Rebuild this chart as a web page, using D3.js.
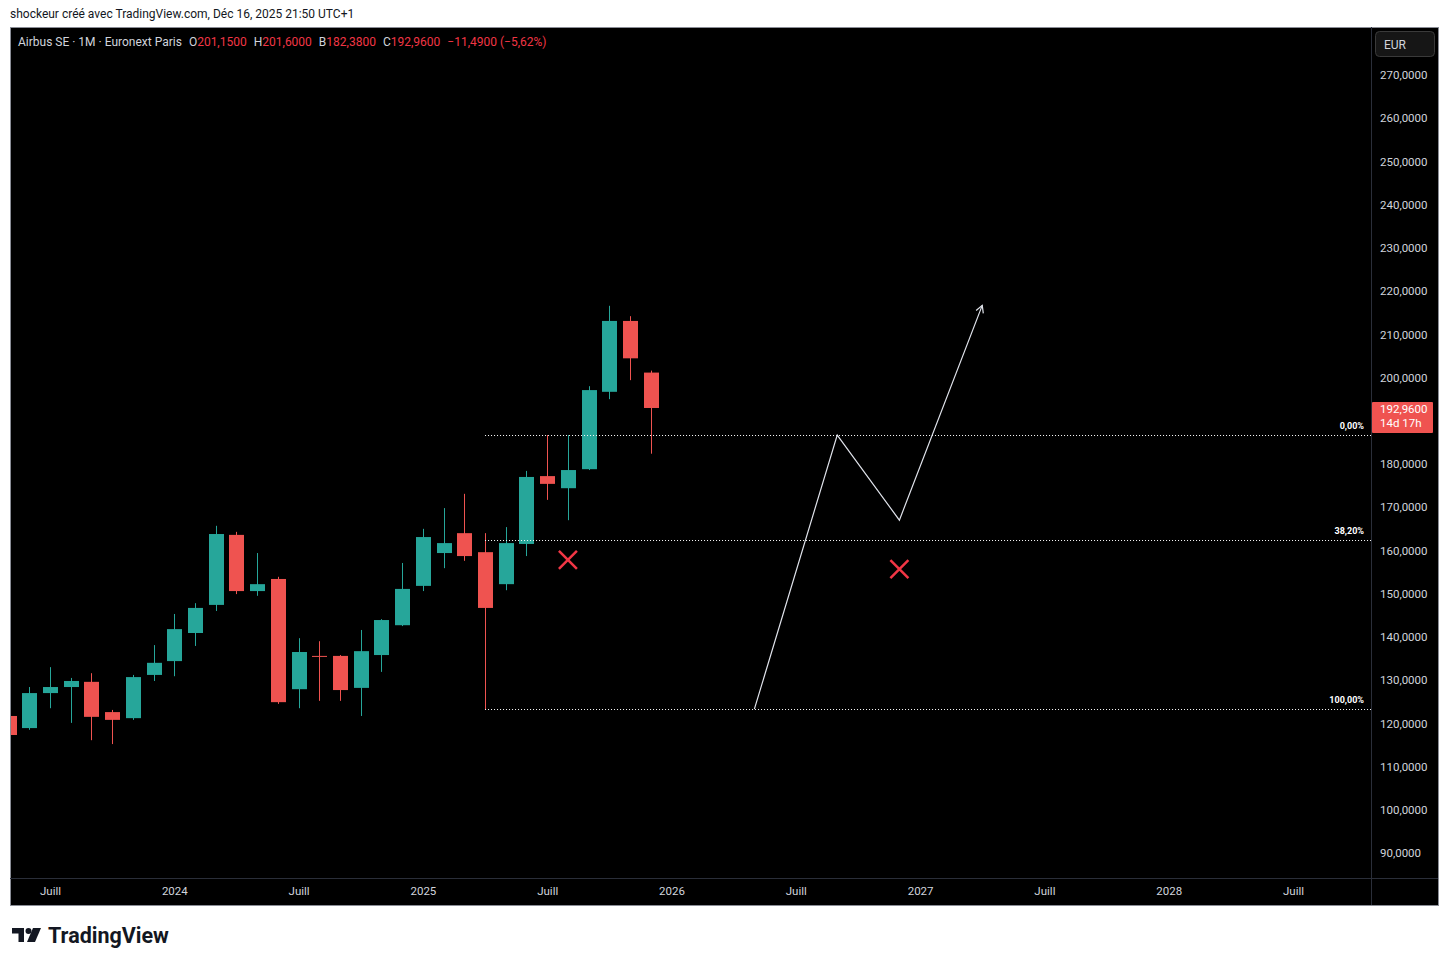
<!DOCTYPE html>
<html>
<head>
<meta charset="utf-8">
<script src="https://cdn.jsdelivr.net/npm/d3@7"></script>
<style>
  body { margin: 0; background: #fff; }
  text { font-family: Roboto, "Liberation Sans", sans-serif; }
</style>
</head>
<body>
<script>
// monthly candles, May 2023 -> Dec 2025 (bar index 0..31)
var months = ["2023-05","2023-06","2023-07","2023-08","2023-09","2023-10","2023-11","2023-12",
              "2024-01","2024-02","2024-03","2024-04","2024-05","2024-06","2024-07","2024-08",
              "2024-09","2024-10","2024-11","2024-12","2025-01","2025-02","2025-03","2025-04",
              "2025-05","2025-06","2025-07","2025-08","2025-09","2025-10","2025-11","2025-12"];
var open  = [121.7,118.9,127.0,128.4,129.6,122.6,121.2,131.2,134.4,140.9,147.4,163.6,150.6,153.4,127.9,135.6,
             135.6,128.2,135.8,142.7,151.8,159.4,164.0,159.6,152.2,161.5,177.2,174.4,178.8,196.7,213.1,201.15];
var high  = [123.0,128.4,133.0,130.5,131.6,123.1,131.2,138.1,145.3,147.8,165.7,164.3,159.4,153.9,139.7,139.0,
             135.8,141.6,144.1,157.1,165.0,169.8,173.1,164.0,165.4,178.4,186.7,186.7,198.0,216.6,214.2,201.6];
var low   = [117.0,118.5,123.5,120.1,116.1,115.2,120.8,129.8,130.9,137.9,146.0,149.9,149.5,124.5,123.5,125.2,
             125.2,121.7,131.9,142.5,150.6,155.9,157.6,123.3,150.8,158.7,171.7,167.0,178.6,195.0,199.4,182.38];
var close = [117.3,127.0,128.4,129.8,121.5,120.8,130.7,134.0,141.8,146.7,163.8,150.6,152.2,124.9,136.5,135.4,
             127.7,136.7,143.9,151.1,163.1,161.7,158.7,146.7,161.7,177.0,175.4,178.6,197.1,213.1,204.45,192.96];

// axes
var priceTicks = [90,100,110,120,130,140,150,160,170,180,200,210,220,230,240,250,260,270];
var timeTickIdx = [2,8,14,20,26,32,38,44,50,56,62];
var timeTickLabels = ["Juill","2024","Juill","2025","Juill","2026","Juill","2027","Juill","2028","Juill"];

// fibonacci retracement (drawn from Apr 2025)
var fibStartIdx = 23;
var fibHigh = 186.7, fibLow = 123.3;
var fibLevels = [0, 0.382, 1];
var fibLabels = ["0,00%", "38,20%", "100,00%"];

// projected path + red crosses
var pathIdx = [36, 40, 43, 47];
var pathVal = [123.3, 186.7, 167.0, 216.7];
var crossIdx = [27, 43];
var crossVal = [157.8, 155.7];

var lastPrice = 192.96;

var W = 1449, H = 966;
var pLeft = 10, pRight = 1371, pTop = 27, pBottom = 878;

var svg = d3.select('body').append('svg')
    .attr('width', W)
    .attr('height', H);

// watermark line at the top
svg.append('text')
    .attr('x', 10).attr('y', 18)
    .attr('font-size', '12px').attr('fill', '#131722')
    .text('shockeur créé avec TradingView.com, Déc 16, 2025 21:50 UTC+1');

// black chart frame
svg.append('rect')
    .attr('x', 10.5).attr('y', 27.5)
    .attr('width', 1428).attr('height', 878)
    .attr('fill', '#000').attr('stroke', '#8a8d96');

var x = d3.scaleLinear().domain([0, 62]).range([8.57, 1293]);
var y = d3.scaleLinear().domain([90, 270]).range([853, 75]);

svg.append('clipPath').attr('id', 'plotclip')
  .append('rect').attr('x', pLeft + 1).attr('y', pTop + 1)
    .attr('width', pRight - pLeft - 1).attr('height', pBottom - pTop - 1);

var plot = svg.append('g').attr('clip-path', 'url(#plotclip)');

// candles
var bars = months.map(function (m, i) {
    return { i: i, o: open[i], h: high[i], l: low[i], c: close[i] };
});
var bodyW = 15;
var col = function (d) { return d.c >= d.o ? '#26a69a' : '#ef5350'; };

plot.selectAll('line.wick').data(bars).enter().append('line')
    .attr('class', 'wick')
    .attr('x1', function (d) { return Math.round(x(d.i)) + 0.5; })
    .attr('x2', function (d) { return Math.round(x(d.i)) + 0.5; })
    .attr('y1', function (d) { return y(d.h); })
    .attr('y2', function (d) { return y(d.l); })
    .attr('stroke', col).attr('stroke-width', 1);

plot.selectAll('rect.body').data(bars).enter().append('rect')
    .attr('class', 'body')
    .attr('x', function (d) { return Math.round(x(d.i)) + 0.5 - bodyW / 2; })
    .attr('y', function (d) { return y(Math.max(d.o, d.c)); })
    .attr('width', bodyW)
    .attr('height', function (d) { return Math.max(1, Math.abs(y(d.o) - y(d.c))); })
    .attr('fill', col);

// fib levels
fibLevels.forEach(function (lv, k) {
    var v = fibHigh - lv * (fibHigh - fibLow);
    var yy = Math.round(y(v)) + 0.5;
    plot.append('line')
        .attr('x1', x(fibStartIdx)).attr('x2', pRight)
        .attr('y1', yy).attr('y2', yy)
        .attr('stroke', '#fff').attr('stroke-width', 1)
        .attr('stroke-dasharray', '1,2');
    plot.append('text')
        .attr('x', pRight - 7).attr('y', yy - 7)
        .attr('text-anchor', 'end')
        .attr('font-size', '9px').attr('font-weight', 'bold')
        .attr('fill', '#fff')
        .text(fibLabels[k]);
});

// projection path with open arrow head
var pts = pathIdx.map(function (d, i) { return [x(d), y(pathVal[i])]; });
plot.append('path')
    .attr('d', d3.line()(pts))
    .attr('fill', 'none').attr('stroke', '#e0e3eb').attr('stroke-width', 1.2);

var p1 = pts[pts.length - 2], p2 = pts[pts.length - 1];
var ang = Math.atan2(p2[1] - p1[1], p2[0] - p1[0]);
var ah = 8;
plot.append('path')
    .attr('d', d3.line()([
        [p2[0] - ah * Math.cos(ang - 0.5), p2[1] - ah * Math.sin(ang - 0.5)],
        p2,
        [p2[0] - ah * Math.cos(ang + 0.5), p2[1] - ah * Math.sin(ang + 0.5)]
    ]))
    .attr('fill', 'none').attr('stroke', '#e0e3eb').attr('stroke-width', 1.2);

// red crosses
var cs = 9;
crossIdx.forEach(function (ci, k) {
    var cx = x(ci), cy = y(crossVal[k]);
    plot.append('path')
        .attr('d', 'M' + (cx - cs) + ',' + (cy - cs) + 'L' + (cx + cs) + ',' + (cy + cs) +
                   'M' + (cx - cs) + ',' + (cy + cs) + 'L' + (cx + cs) + ',' + (cy - cs))
        .attr('stroke', '#f23645').attr('stroke-width', 2.5).attr('fill', 'none');
});

// separators between plot and axes
svg.append('line').attr('x1', pRight + 0.5).attr('x2', pRight + 0.5).attr('y1', pTop).attr('y2', 905)
    .attr('stroke', '#2a2e39');
svg.append('line').attr('x1', 10).attr('x2', 1438).attr('y1', pBottom + 0.5).attr('y2', pBottom + 0.5)
    .attr('stroke', '#2a2e39');

// price axis
var fmt = function (v) { return d3.format('.4f')(v).replace('.', ','); };
var yAxis = svg.append('g')
    .attr('transform', 'translate(1380,0)')
    .call(d3.axisRight(y).tickValues(priceTicks)
          .tickSize(0).tickPadding(0).tickFormat(fmt));
yAxis.select('.domain').remove();
yAxis.selectAll('text')
    .attr('fill', '#d1d4dc').attr('font-size', '11.5px')
    .attr('font-family', 'Roboto, sans-serif');

// time axis
var xAxis = svg.append('g')
    .attr('transform', 'translate(0,' + pBottom + ')')
    .call(d3.axisBottom(x).tickValues(timeTickIdx).tickSize(0).tickPadding(9)
          .tickFormat(function (d, i) { return timeTickLabels[i]; }));
xAxis.select('.domain').remove();
xAxis.selectAll('text')
    .attr('fill', '#d1d4dc').attr('font-size', '11.5px')
    .attr('font-family', 'Roboto, sans-serif');

// EUR button
svg.append('rect').attr('x', 1375.5).attr('y', 31.5).attr('width', 59).attr('height', 25).attr('rx', 4)
    .attr('fill', '#161616').attr('stroke', '#3a3a3a');
svg.append('text').attr('x', 1384).attr('y', 48.5)
    .attr('font-size', '12px').attr('fill', '#d1d4dc').text('EUR');

// last price tag
var ly = y(lastPrice);
svg.append('rect').attr('x', 1372).attr('y', ly - 6).attr('width', 61).attr('height', 31).attr('rx', 1)
    .attr('fill', '#ef5350');
svg.append('text').attr('x', 1380).attr('y', ly + 5)
    .attr('font-size', '11.5px').attr('fill', '#fff').text(fmt(lastPrice));
svg.append('text').attr('x', 1380).attr('y', ly + 19)
    .attr('font-size', '11.5px').attr('fill', '#fff').text('14d 17h');

// legend line (symbol + OHLC of last bar)
var last = bars[bars.length - 1];
var prevClose = close[close.length - 2];
var legend = svg.append('text').attr('x', 18).attr('y', 46).attr('font-size', '12px');
legend.append('tspan').attr('fill', '#d1d4dc').text('Airbus SE · 1M · Euronext Paris');
[['O', last.o], ['H', last.h], ['B', last.l], ['C', last.c]].forEach(function (p) {
    legend.append('tspan').attr('dx', 7).attr('fill', '#d1d4dc').text(p[0]);
    legend.append('tspan').attr('fill', '#f23645').text(fmt(p[1]));
});
var chg = last.c - prevClose;
legend.append('tspan').attr('dx', 7).attr('fill', '#f23645')
    .text(fmt(chg).replace('-', '−') + ' (' + d3.format('.2f')(chg / prevClose * 100).replace('.', ',').replace('-', '−') + '%)');

// TradingView logo
var logo = svg.append('g').attr('fill', '#131722');
logo.append('path').attr('d', 'M12,928 H24 V942 H18.5 V933.5 H12 Z');
logo.append('circle').attr('cx', 28.5).attr('cy', 931).attr('r', 3);
logo.append('path').attr('d', 'M33,928 H41 L35,942 H27 Z');
svg.append('text').attr('x', 48).attr('y', 943)
    .attr('font-family', 'Inter, sans-serif').attr('font-weight', 'bold')
    .attr('font-size', '21.5px').attr('fill', '#131722').text('TradingView');
</script>
</body>
</html>
